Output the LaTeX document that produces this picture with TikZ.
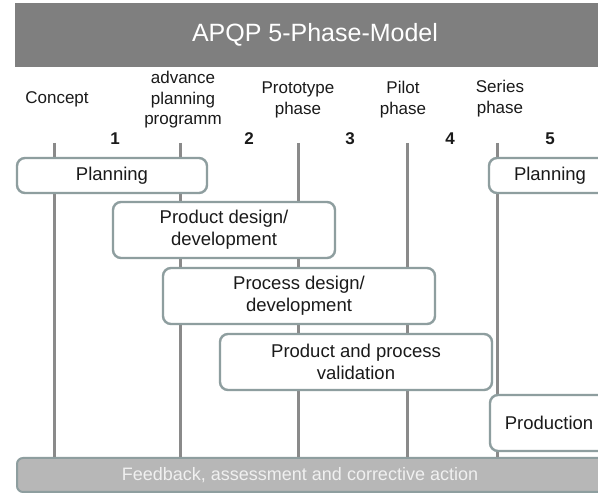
\documentclass[tikz,border=0pt]{standalone}
\usepackage{fontspec}
\setmainfont{Liberation Sans}
\definecolor{hdr}{HTML}{7F7F7F}
\definecolor{vline}{HTML}{8A8A8A}
\definecolor{bord}{HTML}{8E9E9F}
\definecolor{fbfill}{HTML}{B7B7B7}
\definecolor{txt}{HTML}{1A1A1A}
\tikzset{
  phasebox/.style={draw=bord, line width=2.4pt, fill=white, rounded corners=8pt, inner sep=0pt, align=center, text=txt, font=\fontsize{18.5}{22}\selectfont},
  phaselabel/.style={align=center, text=txt, inner sep=0pt, font=\fontsize{17}{21}\selectfont},
  phasenum/.style={text=txt, inner sep=0pt, font=\fontsize{17}{20}\selectfont\bfseries},
  gateline/.style={draw=vline, line width=3pt},
}
\begin{document}
\begin{tikzpicture}[x=1pt,y=-1pt]
\useasboundingbox (0,0) rectangle (598,494);
\clip (0,0) rectangle (598,494);
\fill[white] (0,0) rectangle (598,494);
% header
\node[fill=hdr, minimum width=600pt, minimum height=64pt, inner sep=0pt, text=white, font=\fontsize{25}{28}\selectfont] (hd) at (315,35) {APQP 5-Phase-Model};
% feedback bar
\node[draw=bord, line width=2pt, fill=fbfill, rounded corners=6pt, minimum width=600pt, minimum height=34pt, inner sep=0pt] (fb) at (317,475) {};
\node[text=white!94!black, inner sep=0pt, font=\fontsize{18}{21}\selectfont] (fbt) at (300,475) {Feedback, assessment and corrective action};
% gate lines
\coordinate (g1) at (54,143);
\coordinate (g2) at (180,143);
\coordinate (g3) at (298,143);
\coordinate (g4) at (407,143);
\coordinate (g5) at (497,143);
\foreach \g in {g1,g2,g3,g4,g5} \draw[gateline] (\g) -- (\g |- fb.north);
% phase labels
\node[phaselabel] (lc) at (57,99) {Concept};
\node[phaselabel] (la) at (183,100) {advance\\[-0.5pt]planning\\[-0.5pt]programm};
\node[phaselabel] (lp) at (298,100) {Prototype\\phase};
\node[phaselabel] (ll) at (403,100) {Pilot\\phase};
\node[phaselabel] (ls) at (500,99) {Series\\phase};
\node[phasenum] (n1) at (115,139) {1};
\node[phasenum] (n2) at (249,139) {2};
\node[phasenum] (n3) at (350,139) {3};
\node[phasenum] (n4) at (450,139) {4};
\node[phasenum] (n5) at (550,139) {5};
% boxes
\node[phasebox, minimum width=190pt, minimum height=35pt] (pl1) at (112,175.5) {Planning};
\node[phasebox, minimum width=122pt, minimum height=35pt] (pl2) at (550,175.5) {Planning};
\node[phasebox, minimum width=222pt, minimum height=56pt] (pd) at (224,230) {Product design/\\development};
\node[phasebox, minimum width=272pt, minimum height=56pt] (prd) at (299,296) {Process design/\\development};
\node[phasebox, minimum width=272pt, minimum height=56pt] (val) at (356,362) {Product and process\\validation};
\node[phasebox, minimum width=118pt, minimum height=56pt] (prod) at (549,423) {Production};
\end{tikzpicture}
\end{document}
